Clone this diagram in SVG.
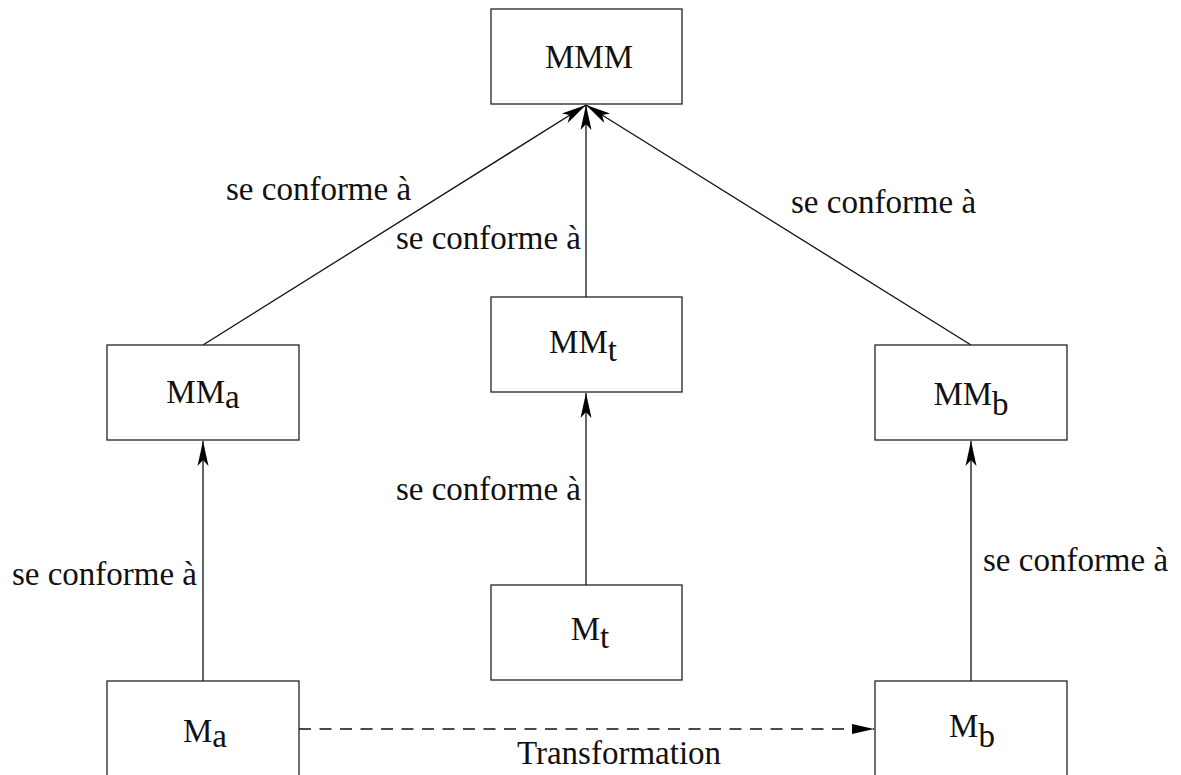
<svg xmlns="http://www.w3.org/2000/svg" width="1181" height="775" viewBox="0 0 1181 775">
<style>
.box{fill:#fff;stroke:#222;stroke-width:1.3}
.t{font-family:"Liberation Serif","DejaVu Serif",serif;font-size:33px;fill:#111}
.c{text-anchor:middle}
.e{text-anchor:end}
.ln{fill:none;stroke:#111;stroke-width:1.3}
.dash{stroke-dasharray:12 8.5}
</style>
<defs>
<marker id="ah" markerUnits="userSpaceOnUse" viewBox="-26 -7 28 14" refX="0" refY="0" markerWidth="28" markerHeight="14" orient="auto">
<path d="M0,0 L-25,-5.5 L-19,0 L-25,5.5 Z" fill="#000"/>
</marker>
<marker id="tri" markerUnits="userSpaceOnUse" viewBox="-24 -7 26 14" refX="0" refY="0" markerWidth="26" markerHeight="14" orient="auto">
<path d="M0,0 L-22,-5 L-22,5 Z" fill="#000"/>
</marker>
</defs>
<g id="connectors">
<line class="ln" x1="203" y1="345" x2="586" y2="105" marker-end="url(#ah)"/>
<line class="ln" x1="586" y1="297" x2="586" y2="105" marker-end="url(#ah)"/>
<line class="ln" x1="971" y1="345" x2="586" y2="105" marker-end="url(#ah)"/>
<line class="ln" x1="203" y1="681" x2="203" y2="441" marker-end="url(#ah)"/>
<line class="ln" x1="586" y1="585" x2="586" y2="393" marker-end="url(#ah)"/>
<line class="ln" x1="971" y1="681" x2="971" y2="441" marker-end="url(#ah)"/>
<line class="ln dash" x1="299" y1="729" x2="874" y2="729" marker-end="url(#tri)"/>
<text class="t" x="226" y="200">se conforme à</text>
<text class="t e" x="581" y="249">se conforme à</text>
<text class="t" x="791" y="213">se conforme à</text>
<text class="t e" x="581" y="500">se conforme à</text>
<text class="t e" x="197" y="585">se conforme à</text>
<text class="t" x="983" y="571">se conforme à</text>
<text class="t c" x="619" y="764">Transformation</text>
</g>
<g id="MMM">
<rect class="box" x="491" y="9" width="191" height="95"/>
<text class="t c" x="589" y="68">MMM</text>
</g>
<g id="MMa">
<rect class="box" x="107" y="345" width="192" height="95"/>
<text class="t c" x="203" y="403">MM<tspan dy="5">a</tspan></text>
</g>
<g id="MMt">
<rect class="box" x="491" y="297" width="191" height="95"/>
<text class="t c" x="583" y="353">MM<tspan dy="8">t</tspan></text>
</g>
<g id="MMb">
<rect class="box" x="875" y="345" width="192" height="95"/>
<text class="t c" x="971" y="405">MM<tspan dy="10">b</tspan></text>
</g>
<g id="Mt">
<rect class="box" x="491" y="585" width="191" height="95"/>
<text class="t c" x="590" y="640">M<tspan dy="8">t</tspan></text>
</g>
<g id="Ma">
<rect class="box" x="107" y="681" width="192" height="100"/>
<text class="t c" x="205" y="742">M<tspan dy="5">a</tspan></text>
</g>
<g id="Mb">
<rect class="box" x="875" y="681" width="192" height="100"/>
<text class="t c" x="972" y="737">M<tspan dy="10">b</tspan></text>
</g>
</svg>
